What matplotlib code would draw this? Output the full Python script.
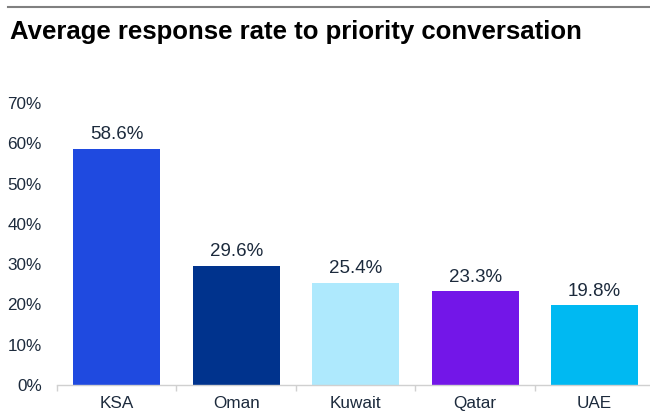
import numpy as np
import matplotlib
matplotlib.use("Agg")
import matplotlib.pyplot as plt
from matplotlib.lines import Line2D

countries = ["KSA", "Oman", "Kuwait", "Qatar", "UAE"]
rates = [58.6, 29.6, 25.4, 23.3, 19.8]
colors = ["#1f4ae0", "#00338d", "#aee9fd", "#7316e8", "#00b9f2"]
yticks = [0, 10, 20, 30, 40, 50, 60, 70]

txt = "#1c2a3c"
plt.rcParams["font.family"] = ["Liberation Sans", "DejaVu Sans"]

fig = plt.figure(figsize=(6.5, 4.12), dpi=100)
ax = fig.add_axes([0.0877, 0.0655, 0.919, 0.6845])

x = np.arange(len(countries))
ax.bar(x, rates, width=0.73, color=colors)
for xi, v in zip(x, rates):
    ax.annotate(f"{v:.1f}%", (xi, v), xytext=(0, 4), textcoords="offset points",
                ha="center", va="bottom", fontsize=13.5, color=txt)

ax.set_xlim(-0.5, len(countries) - 0.5)
ax.set_ylim(0, 70)
ax.set_yticks(yticks)
ax.set_yticklabels([f"{t}%" for t in yticks], fontsize=12.3, color=txt)
ax.set_xticks(x)
ax.set_xticklabels(countries, fontsize=12.3, color=txt)
ax.set_xticks(np.arange(len(countries) + 1) - 0.5, minor=True)
ax.tick_params(axis="x", which="major", length=0, pad=8)
ax.tick_params(axis="x", which="minor", length=4, color="#d0d0d0", width=1)
ax.tick_params(axis="y", length=0, pad=11)
for s in ["top", "right", "left"]:
    ax.spines[s].set_visible(False)
ax.spines["bottom"].set_color("#d0d0d0")
ax.spines["bottom"].set_linewidth(1)

# title and rule above it
fig.add_artist(Line2D([0.012, 1.0], [0.983, 0.983], color="#808080", lw=1.5))
fig.text(0.015, 0.922, "Average response rate to priority conversation",
         fontsize=18.5, fontweight="bold", va="center", ha="left")

fig.savefig("out.png", dpi=100)
